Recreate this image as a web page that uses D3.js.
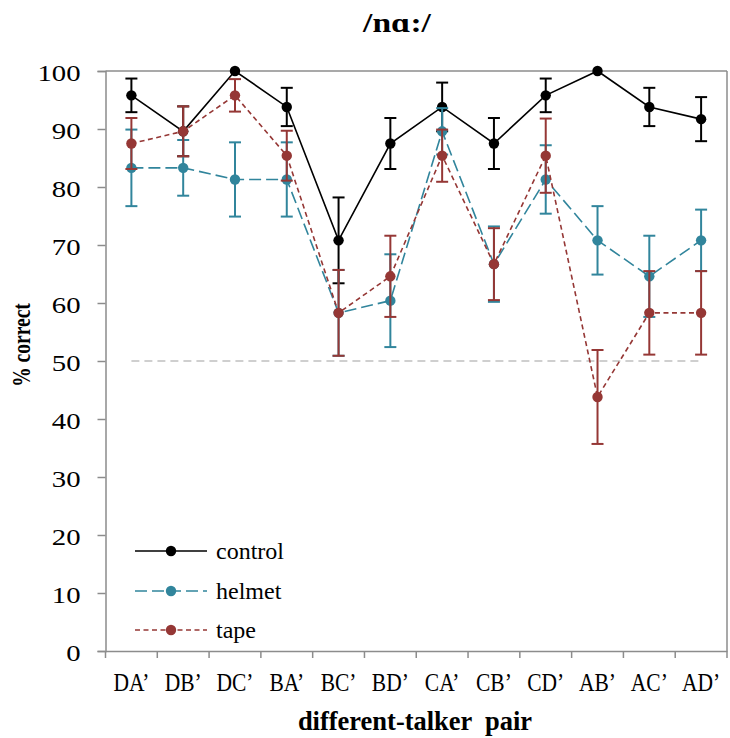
<!DOCTYPE html>
<html>
<head>
<meta charset="utf-8">
<script src="https://cdn.jsdelivr.net/npm/d3@7"></script>
<style>
  html, body { margin: 0; padding: 0; background: #fff; }
  svg { display: block; }
</style>
</head>
<body>
<svg id="chart" width="730" height="738"></svg>
<script>
// Talker pairs along the x axis
const pairs = ["DA’", "DB’", "DC’", "BA’", "BC’", "BD’", "CA’", "CB’", "CD’", "AB’", "AC’", "AD’"];

// Percent correct per condition
const controlVals = [95.8, 89.6, 100, 93.8, 70.8, 87.5, 93.8, 87.5, 95.8, 100, 93.8, 91.7];
const helmetVals  = [83.3, 83.3, 81.3, 81.3, 58.3, 60.4, 89.6, 66.7, 81.3, 70.8, 64.6, 70.8];
const tapeVals    = [87.5, 89.6, 95.8, 85.4, 58.3, 64.6, 85.4, 66.7, 85.4, 43.8, 58.3, 58.3];

// Error bar half-widths (percentage points)
const controlErr = [2.9, 4.3, 0, 3.3, 7.4, 4.4, 4.2, 4.4, 2.9, 0, 3.3, 3.8];
const helmetErr  = [6.6, 4.8, 6.4, 6.4, 7.4, 8.0, 4.0, 6.5, 5.9, 5.9, 7.0, 5.3];
const tapeErr    = [4.4, 4.3, 2.8, 4.3, 7.4, 7.0, 4.5, 6.2, 6.4, 8.1, 7.2, 7.2];

const yTicks = [0, 10, 20, 30, 40, 50, 60, 70, 80, 90, 100];
const chanceLevel = 50;

const series = [
  { name: "control", values: controlVals, err: controlErr, color: "#000000", dash: null },
  { name: "helmet",  values: helmetVals,  err: helmetErr,  color: "#31859C", dash: "12,5" },
  { name: "tape",    values: tapeVals,    err: tapeErr,    color: "#953735", dash: "5,3.5" }
];

const FONT = "'Liberation Serif', 'Times New Roman', 'DejaVu Serif', serif";

// Stretch or squeeze a text's glyphs along its baseline by a factor
function scaleLength(sel, factor) {
  sel.each(function () {
    const w = this.getComputedTextLength();
    d3.select(this).attr("textLength", w * factor).attr("lengthAdjust", "spacingAndGlyphs");
  });
}

const svg = d3.select("#chart").style("font-family", FONT);
const plotLeft = 105.5, plotRight = 727, plotTop = 71, plotBottom = 651;

const x = d3.scaleBand().domain(pairs).range([plotLeft, plotRight]).padding(0);
const y = d3.scaleLinear().domain([0, 100]).range([plotBottom, plotTop]);
const cx = d => x(d) + x.bandwidth() / 2;

const axisGray = "#8c8c8c";

// Title
svg.append("text")
  .attr("x", 397).attr("y", 32)
  .attr("text-anchor", "middle")
  .style("font-family", FONT)
  .attr("font-size", 28).attr("font-weight", "bold")
  .text("/nɑ:/")
  .call(scaleLength, 1.2);

// Plot frame: top and right edges
svg.append("line").attr("x1", plotLeft).attr("x2", plotRight).attr("y1", plotTop).attr("y2", plotTop)
  .attr("stroke", axisGray).attr("stroke-width", 1.5);
svg.append("line").attr("x1", plotRight).attr("x2", plotRight).attr("y1", plotTop).attr("y2", plotBottom)
  .attr("stroke", axisGray).attr("stroke-width", 1.5);

// Y axis
const yAxis = svg.append("g")
  .attr("transform", `translate(${plotLeft},0)`)
  .call(d3.axisLeft(y).tickValues(yTicks).tickSize(8).tickPadding(17).tickFormat(d3.format("d")));
yAxis.attr("font-family", null).style("font-family", FONT);
yAxis.select(".domain").attr("stroke", axisGray).attr("stroke-width", 1.5);
yAxis.selectAll(".tick line").attr("stroke", axisGray).attr("stroke-width", 1.5);
yAxis.selectAll(".tick text")
  .attr("font-size", 23).attr("fill", "#000").attr("dy", "0.4em")
  .style("font-family", FONT)
  .call(scaleLength, 1.25);

// X axis with ticks on band boundaries
const xAxis = svg.append("g")
  .attr("transform", `translate(0,${plotBottom})`)
  .call(d3.axisBottom(x).tickSize(0).tickPadding(22));
xAxis.attr("font-family", null).style("font-family", FONT);
xAxis.select(".domain").attr("stroke", axisGray).attr("stroke-width", 1.5);
xAxis.selectAll(".tick text")
  .attr("font-size", 25).attr("fill", "#000")
  .attr("y", 40).attr("dy", null)
  .style("font-family", FONT)
  .call(scaleLength, 0.86);
const boundaries = pairs.map(p => x(p)).concat([x(pairs[pairs.length - 1]) + x.bandwidth()]);
svg.append("g").selectAll("line").data(boundaries).join("line")
  .attr("x1", d => d).attr("x2", d => d)
  .attr("y1", plotBottom).attr("y2", plotBottom + 7)
  .attr("stroke", axisGray).attr("stroke-width", 1.5);

// Axis titles
svg.append("text")
  .attr("x", 415).attr("y", 730)
  .attr("text-anchor", "middle")
  .style("font-family", FONT)
  .style("white-space", "pre")
  .attr("font-size", 27).attr("font-weight", "bold")
  .text("different-talker  pair")
  .call(scaleLength, 0.98);
svg.append("text")
  .attr("transform", `translate(30,${345}) rotate(-90)`)
  .attr("text-anchor", "middle")
  .style("font-family", FONT)
  .attr("font-size", 26).attr("font-weight", "bold")
  .text("% correct")
  .call(scaleLength, 0.75);

// Chance line
svg.append("line")
  .attr("x1", cx(pairs[0])).attr("x2", cx(pairs[pairs.length - 1]))
  .attr("y1", y(chanceLevel)).attr("y2", y(chanceLevel))
  .attr("stroke", "#c0c0c0").attr("stroke-width", 1.5)
  .attr("stroke-dasharray", "8,5");

// Series: lines, error bars, markers
const line = d3.line().x((d, i) => cx(pairs[i])).y(d => y(d));
const capHalf = 6;

series.forEach(s => {
  const g = svg.append("g");
  g.append("path")
    .datum(s.values)
    .attr("d", line)
    .attr("fill", "none")
    .attr("stroke", s.color)
    .attr("stroke-width", 1.6)
    .attr("stroke-dasharray", s.dash);

  const bars = s.values.map((v, i) => ({ p: pairs[i], v, e: s.err[i] })).filter(d => d.e > 0);
  const eb = g.append("g").attr("stroke", s.color).attr("stroke-width", 2);
  eb.selectAll("line.v").data(bars).join("line").attr("class", "v")
    .attr("x1", d => cx(d.p)).attr("x2", d => cx(d.p))
    .attr("y1", d => y(Math.min(100, d.v + d.e))).attr("y2", d => y(d.v - d.e));
  eb.selectAll("line.t").data(bars).join("line").attr("class", "t")
    .attr("x1", d => cx(d.p) - capHalf).attr("x2", d => cx(d.p) + capHalf)
    .attr("y1", d => y(Math.min(100, d.v + d.e))).attr("y2", d => y(Math.min(100, d.v + d.e)));
  eb.selectAll("line.b").data(bars).join("line").attr("class", "b")
    .attr("x1", d => cx(d.p) - capHalf).attr("x2", d => cx(d.p) + capHalf)
    .attr("y1", d => y(d.v - d.e)).attr("y2", d => y(d.v - d.e));

  g.selectAll("circle").data(s.values).join("circle")
    .attr("cx", (d, i) => cx(pairs[i]))
    .attr("cy", d => y(d))
    .attr("r", 5.2)
    .attr("fill", s.color);
});

// Legend
const legendY = [551, 591, 630];
series.forEach((s, i) => {
  const lg = svg.append("g").attr("transform", `translate(0,${legendY[i]})`);
  lg.append("line").attr("x1", 135).attr("x2", 207).attr("y1", 0).attr("y2", 0)
    .attr("stroke", s.color).attr("stroke-width", 1.6).attr("stroke-dasharray", s.dash);
  lg.append("circle").attr("cx", 171).attr("cy", 0).attr("r", 5.2).attr("fill", s.color);
  lg.append("text").attr("x", 216).attr("y", 8).attr("font-size", 24)
    .style("font-family", FONT).text(s.name);
});
</script>
</body>
</html>
